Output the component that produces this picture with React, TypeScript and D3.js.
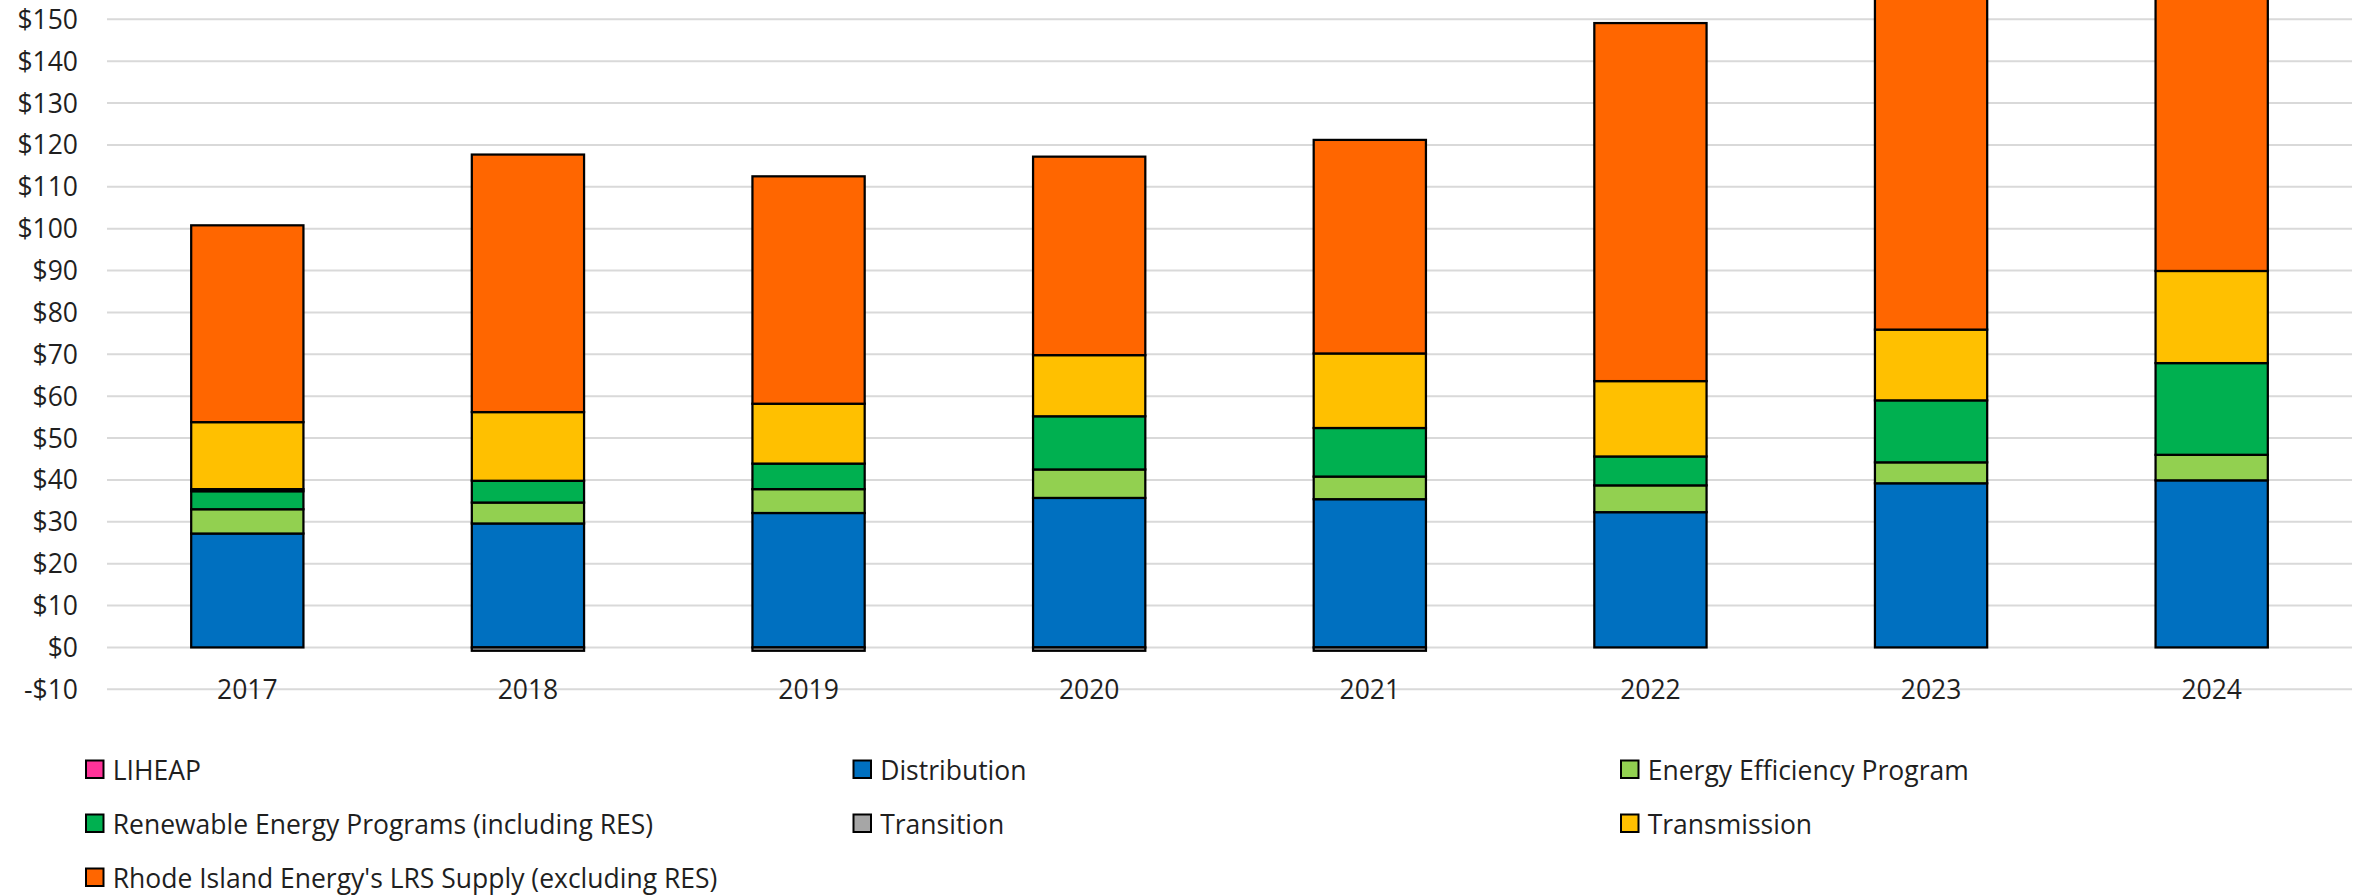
import React from "react";
import * as d3 from "d3";

// bill components, $ per month
const years = ["2017", "2018", "2019", "2020", "2021", "2022", "2023", "2024"];
const liheap = [0, 0, 0, 0, 0, 0, 0, 0];
const distribution = [27.2, 29.6, 32.1, 35.7, 35.4, 32.3, 39.2, 39.9];
const efficiency = [5.8, 5.0, 5.7, 6.8, 5.4, 6.4, 5.0, 6.1];
const renewable = [4.3, 5.2, 6.1, 12.7, 11.6, 6.9, 14.8, 21.9];
const transition = [0.5, -0.8, -0.8, -0.8, -0.8, 0, 0, 0];
const transmission = [16.0, 16.4, 14.3, 14.6, 17.8, 18.0, 16.9, 22.0];
const supply = [47.0, 61.5, 54.3, 47.4, 51.0, 85.5, 95.0, 72.0];
const yTicks = [-10, 0, 10, 20, 30, 40, 50, 60, 70, 80, 90, 100, 110, 120, 130, 140, 150];

const seriesNames = [
  "LIHEAP",
  "Distribution",
  "Energy Efficiency Program",
  "Renewable Energy Programs (including RES)",
  "Transition",
  "Transmission",
  "Rhode Island Energy's LRS Supply (excluding RES)",
];
const seriesValues = [liheap, distribution, efficiency, renewable, transition, transmission, supply];
const colors = ["#FF3399", "#0070C0", "#92D050", "#00B050", "#A6A6A6", "#FFC000", "#FF6600"];

const W = 2371;
const H = 896;
const FONT = "'Open Sans', 'DejaVu Sans', sans-serif";

export default function App() {
  const rows = years.map((y, i) => {
    const r: any = { year: y };
    seriesNames.forEach((s, k) => (r[s] = seriesValues[k][i]));
    return r;
  });
  const stacked = d3.stack().keys(seriesNames).offset(d3.stackOffsetDiverging)(rows);

  const x = d3.scaleBand().domain(years).range([107, 2352]).padding(0);
  const y = d3.scaleLinear().domain([-10, 150]).range([689.3, 19.3]);
  const bw = x.bandwidth();

  return (
    <>
      <style>{`body{margin:0}`}</style>
      <svg width={W} height={H} style={{ display: "block", background: "#fff" }} fontFamily={FONT}>
        {/* gridlines + y labels */}
        {yTicks.map((t) => (
          <g key={t}>
            <line x1={107} x2={2352} y1={y(t)} y2={y(t)} stroke="#d9d9d9" strokeWidth={2} />
            <text x={78} y={y(t)} dy="0.36em" textAnchor="end" fontSize={26.5} fill="#1f1f1f">
              {t < 0 ? `-$${-t}` : `$${t}`}
            </text>
          </g>
        ))}

        {/* stacked bars */}
        {stacked.map((layer, k) => (
          <g key={layer.key} fill={colors[k]} stroke="#000" strokeWidth={2.25}>
            {layer.map((d, i) =>
              d[1] - d[0] === 0 ? null : (
                <rect
                  key={i}
                  x={x(years[i])! + bw * 0.3}
                  width={bw * 0.4}
                  y={y(Math.max(d[0], d[1]))}
                  height={Math.abs(y(d[0]) - y(d[1]))}
                />
              )
            )}
          </g>
        ))}

        {/* x labels */}
        {years.map((yr) => (
          <text key={yr} x={x(yr)! + bw / 2} y={689} dy="0.36em" textAnchor="middle" fontSize={26.5} fill="#1f1f1f">
            {yr}
          </text>
        ))}

        {/* legend */}
        {seriesNames.map((s, k) => {
          const col = k % 3;
          const row = Math.floor(k / 3);
          const lx = 85 + col * 767.5;
          const ly = 770 + row * 54;
          return (
            <g key={s}>
              <rect x={lx + 1} y={ly - 9.5} width={17.5} height={17.5} fill={colors[k]} stroke="#000" strokeWidth={2} />
              <text x={lx + 27.7} y={ly} dy="0.36em" fontSize={26.5} fill="#1f1f1f">
                {s}
              </text>
            </g>
          );
        })}
      </svg>
    </>
  );
}
